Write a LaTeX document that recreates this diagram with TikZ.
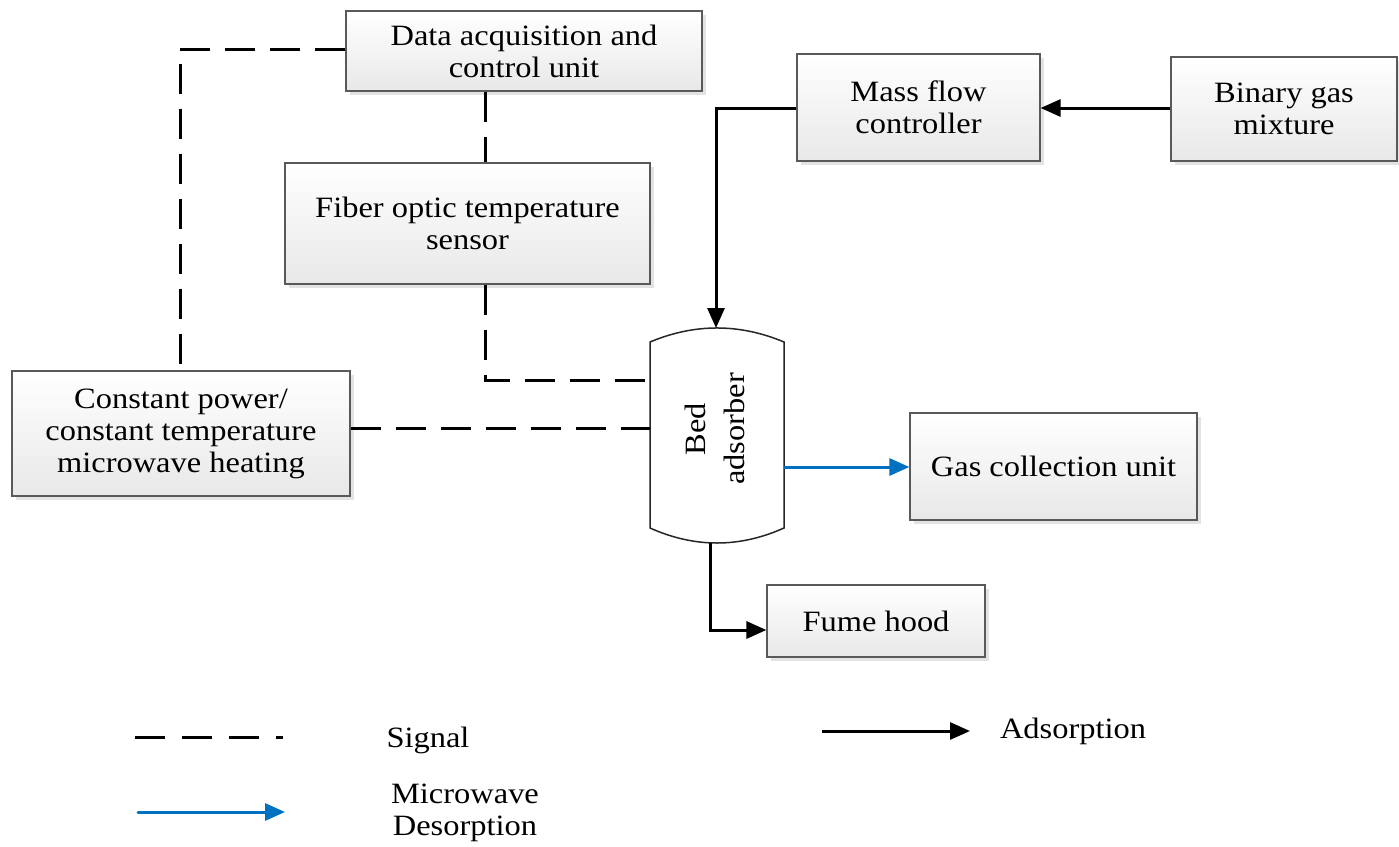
\documentclass[tikz,border=0pt]{standalone}
\usepackage{fontspec}
\setmainfont{Liberation Serif}[FakeStretch=1.1]
\usetikzlibrary{arrows.meta,shadows,positioning}
\definecolor{mwblue}{RGB}{0,112,192}
\tikzset{
  box/.style={draw=gray!70!black, line width=1.2pt, top color=white, bottom color=gray!18,
    drop shadow={shadow xshift=4pt, shadow yshift=-4pt, fill=gray!22, opacity=1},
    align=center, inner sep=0pt, font=\fontsize{29.5}{32}\selectfont},
  sig/.style={line width=3pt, dash pattern=on 30pt off 15pt},
  ads/.style={line width=3pt, -{Triangle[length=20pt,width=17pt]}},
  mw/.style={line width=3pt, color=mwblue, -{Triangle[length=20pt,width=17pt]}},
  lbl/.style={font=\fontsize{29.5}{32}\selectfont, align=center, inner sep=0pt}
}
\begin{document}
\begin{tikzpicture}[x=1pt,y=-1pt]
\useasboundingbox (0,0) rectangle (1399,846);
\node[box, minimum width=356pt, minimum height=80pt] (daq) at (524,51) {Data acquisition and\\control unit};
\node[box, minimum width=243pt, minimum height=107pt] (mfc) at (918.5,107.5) {Mass flow\\controller};
\node[box, minimum width=226pt, minimum height=104pt] (bgm) at (1284,109) {Binary gas\\mixture};
\node[box, minimum width=365pt, minimum height=121pt] (fot) at (467.5,223.5) {Fiber optic temperature\\sensor};
\node[box, minimum width=338pt, minimum height=125pt] (cp) at (181,433.5) {Constant power/\\constant temperature\\microwave heating};
\node[box, minimum width=287pt, minimum height=107pt] (gcu) at (1053.5,466.5) {Gas collection unit};
\node[box, minimum width=218pt, minimum height=72pt] (fh) at (876,621) {Fume hood};
% bed adsorber
\node[minimum width=134pt, minimum height=215pt, inner sep=0pt] (bed) at (717,435.5) {};
\draw[draw=gray!30!black, line width=1.5pt, fill=white]
  (650,342) -- (650,528) .. controls (694.7,548) and (739.3,548) .. (784,528) -- (784,342)
  .. controls (739.3,323.3) and (694.7,323.3) .. (650,342) -- cycle;
\node[lbl, rotate=90, font=\fontsize{29.5}{39}\selectfont] (bedtxt) at (715,429) {Bed\\adsorber};
% signal lines
\coordinate (c1) at (180,49);
\draw[sig] (daq.west |- 0,49) -- (c1) -- (cp.north -| c1);
\draw[sig] (daq.south -| 485,0) -- (fot.north -| 485,0);
\coordinate (c2) at (485,380);
\draw[sig] (fot.south -| c2) -- (c2) -- (650,380);
\draw[sig] (cp.east |- 0,428) -- (650,428);
% adsorption lines
\coordinate (c3) at (716,108);
\draw[ads] (mfc.west |- c3) -- (c3) -- (716,328);
\draw[ads] (bgm.west |- 0,108) -- (mfc.east |- 0,108);
\coordinate (c4) at (710,630);
\draw[ads] (710,543) -- (c4) -- (fh.west |- c4);
% microwave
\draw[mw] (784,467) -- (gcu.west |- 0,467);
% legend
\coordinate (l1a) at (135,737); \coordinate (l1b) at (283,737);
\draw[line width=3pt, dash pattern=on 30pt off 17pt] (l1a) -- (l1b);
\node[lbl] (lsig) at (428,740) {Signal};
\coordinate (l2a) at (822,731); \coordinate (l2b) at (970,731);
\draw[ads] (l2a) -- (l2b);
\node[lbl] (lads) at (1073,731) {Adsorption};
\coordinate (l3a) at (138,812); \coordinate (l3b) at (285,812);
\draw[mw, line cap=round] (l3a) -- (l3b);
\node[lbl] (lmw) at (465,813) {Microwave\\Desorption};
\end{tikzpicture}
\end{document}
